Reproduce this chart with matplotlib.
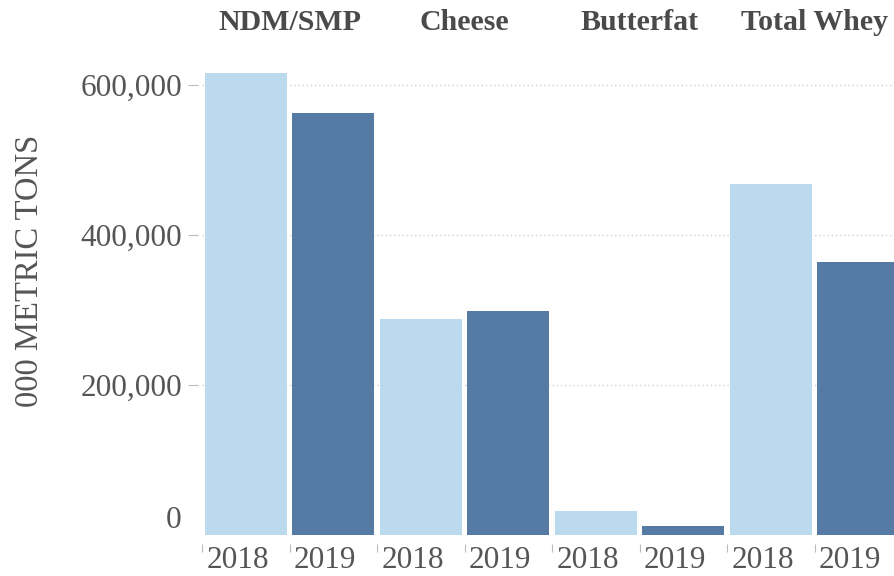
import numpy as np
import matplotlib
matplotlib.use('Agg')
import matplotlib.pyplot as plt
from matplotlib.transforms import blended_transform_factory, ScaledTranslation

categories = ['NDM/SMP', 'Cheese', 'Butterfat', 'Total Whey']
years = ['2018', '2019']
vals_2018 = [615000, 288000, 32000, 467000]
vals_2019 = [562000, 298000, 12000, 364000]
yticks = [0, 200000, 400000, 600000]

colors = {'2018': '#bcdaee', '2019': '#557ba5'}
text_col = '#555555'

plt.rcParams['font.family'] = ['Liberation Serif', 'DejaVu Serif']

fig = plt.figure(figsize=(8.94, 5.76), dpi=100)
ax = fig.add_axes([202 / 894, 41.5 / 576, 700 / 894, 480 / 576])

# one slot per (category, year), two slots per category
values = {'2018': vals_2018, '2019': vals_2019}
slot_labels = []
for c, cat in enumerate(categories):
    for j, yr in enumerate(years):
        idx = 2 * c + j
        ax.bar(idx + 0.5, values[yr][c], width=0.94, color=colors[yr], zorder=3)
        slot_labels.append(yr)

ax.set_xlim(0, len(slot_labels))
ax.set_ylim(0, 640000)

# gridlines
ax.set_yticks(yticks)
ax.set_yticklabels(['{:,}'.format(v) for v in yticks])
ax.yaxis.grid(True, color='#d0d0d0', linestyle=(0, (1, 2)), linewidth=1.0, zorder=0)
ax.set_axisbelow(True)

for s in ax.spines.values():
    s.set_visible(False)
ax.spines['left'].set_position(('outward', 3))
ax.spines['bottom'].set_position(('outward', 7))

ax.tick_params(axis='y', length=7.5, width=0.8, color='#bbbbbb', pad=4,
               labelsize=22.5, labelcolor=text_col)
ytl = ax.get_yticklabels()
ytl[0].set_va('bottom')
ax.yaxis.get_major_ticks()[0].tick1line.set_visible(False)

ax.set_xticks(np.arange(len(slot_labels)))
ax.set_xticklabels([])
ax.tick_params(axis='x', length=6, width=0.8, color='#bbbbbb')

# year labels under each bar
tr = blended_transform_factory(ax.transData, ax.transAxes) + \
    ScaledTranslation(-8 / 100, -26.5 / 100, fig.dpi_scale_trans)
for i, lab in enumerate(slot_labels):
    ax.text(i + 0.5, 0, lab, transform=tr, ha='center', va='center',
            fontsize=22.5, color=text_col)

# category headers
htr = blended_transform_factory(ax.transData, fig.transFigure)
for c, cat in enumerate(categories):
    ax.text(2 * c + 1, 1 - 23 / 576, cat, transform=htr, ha='center', va='center',
            fontsize=21.5, fontweight='bold', color='#4a4a4a', clip_on=False)

fig.text(30 / 894, 1 - 271 / 576, '000 METRIC TONS', rotation=90,
         ha='center', va='center', fontsize=23.5, color=text_col)

fig.savefig('out.png', dpi=100)
plt.close()
